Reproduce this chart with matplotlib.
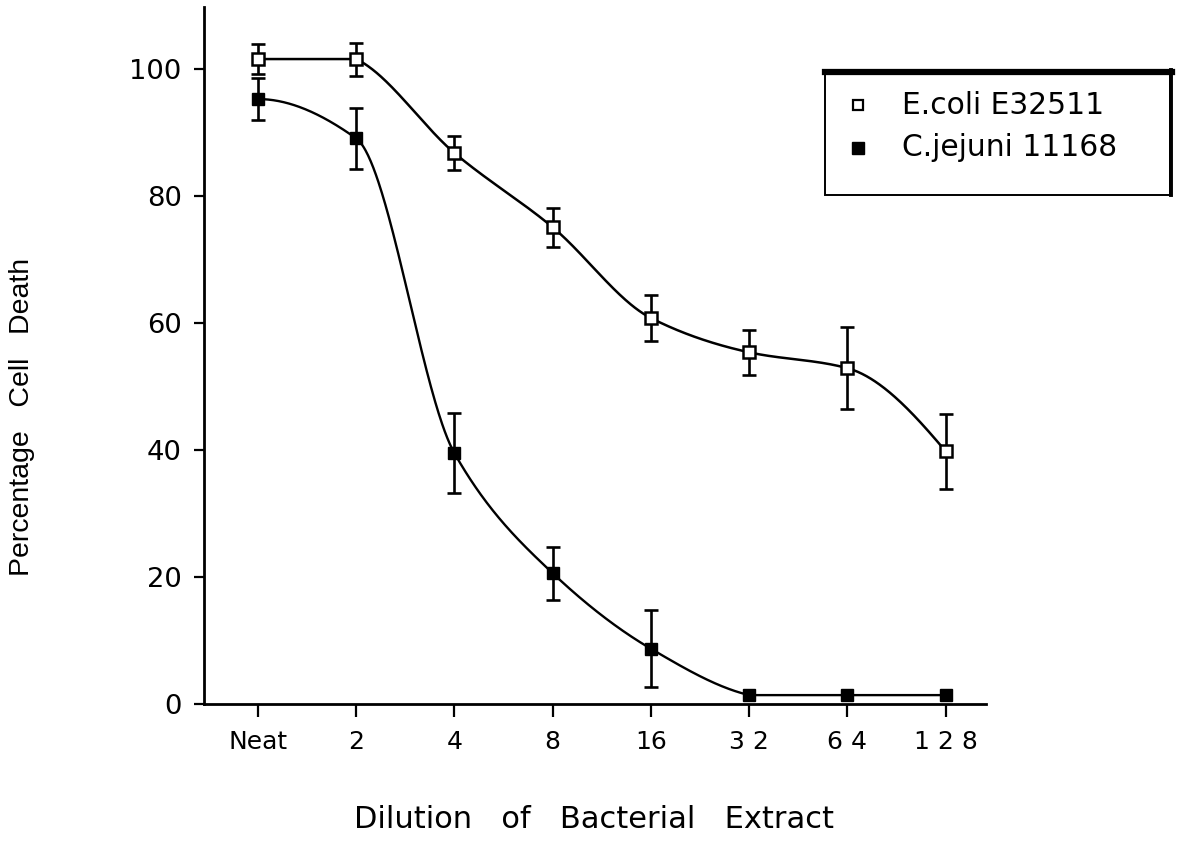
import numpy as np
import matplotlib
matplotlib.use("Agg")
import matplotlib.pyplot as plt
from matplotlib.lines import Line2D
from matplotlib.patches import Rectangle

# ---------------- data ----------------
categories = ['Neat', '2', '4', '8', '16', '32', '64', '128']
tick_labels = ['Neat', '2', '4', '8', '16', '3 2', '6 4', '1 2 8']
ecoli = [101.6, 101.6, 86.8, 75.1, 60.8, 55.4, 52.9, 39.8]
ecoli_err = [2.3, 2.6, 2.75, 3.1, 3.6, 3.5, 6.5, 5.9]
cjejuni = [95.3, 89.1, 39.5, 20.6, 8.7, 1.4, 1.4, 1.4]
cjejuni_err = [3.3, 4.8, 6.3, 4.2, 6.1, 0.0, 0.0, 0.0]
series_names = ['E.coli E32511', 'C.jejuni 11168']
y_ticks = [0, 20, 40, 60, 80, 100]

WIDE = ['DejaVu Sans']
NARROW = ['Liberation Sans', 'DejaVu Sans']
plt.rcParams['font.family'] = WIDE


def smooth_curve(x, y, xs):
    """Piecewise cubic Hermite smoothing (monotone, Fritsch-Carlson style)."""
    x = np.asarray(x, float)
    y = np.asarray(y, float)
    h = np.diff(x)
    delta = np.diff(y) / h
    n = len(x)
    d = np.zeros(n)
    for k in range(1, n - 1):
        if delta[k - 1] * delta[k] > 0:
            w1 = 2 * h[k] + h[k - 1]
            w2 = h[k] + 2 * h[k - 1]
            d[k] = (w1 + w2) / (w1 / delta[k - 1] + w2 / delta[k])

    def end(h0, h1, d0, d1):
        v = ((2 * h0 + h1) * d0 - h0 * d1) / (h0 + h1)
        if np.sign(v) != np.sign(d0):
            v = 0.0
        elif np.sign(d0) != np.sign(d1) and abs(v) > abs(3 * d0):
            v = 3 * d0
        return v

    d[0] = end(h[0], h[1], delta[0], delta[1])
    d[-1] = end(h[-1], h[-2], delta[-1], delta[-2])

    # one-sided tangents next to flat segments
    dl = d[:-1].copy()   # tangent at left end of segment k
    dr = d[1:].copy()    # tangent at right end of segment k
    for k in range(n - 1):
        if delta[k] == 0:
            continue
        if k > 0 and delta[k - 1] == 0:
            cr = (y[k + 1] - y[k - 1]) / (x[k + 1] - x[k - 1])
            if np.sign(cr) == np.sign(delta[k]):
                dl[k] = cr
        if k < n - 2 and delta[k + 1] == 0:
            cr = (y[k + 2] - y[k]) / (x[k + 2] - x[k])
            if np.sign(cr) == np.sign(delta[k]):
                dr[k] = cr

    idx = np.clip(np.searchsorted(x, xs) - 1, 0, n - 2)
    t = (xs - x[idx]) / h[idx]
    h00 = 2 * t**3 - 3 * t**2 + 1
    h10 = t**3 - 2 * t**2 + t
    h01 = -2 * t**3 + 3 * t**2
    h11 = t**3 - t**2
    return (h00 * y[idx] + h10 * h[idx] * dl[idx]
            + h01 * y[idx + 1] + h11 * h[idx] * dr[idx])


W, H = 1177, 856
fig = plt.figure(figsize=(W / 100, H / 100), dpi=100)
ax = fig.add_axes([204 / W, 1 - 704 / H, (986 - 204) / W, (704 - 7) / H])

x = np.arange(len(categories))
xs = np.linspace(x[0], x[-1], 800)

# curves
ax.plot(xs, smooth_curve(x, ecoli, xs), color='black', lw=1.8, zorder=2)
ax.plot(xs, smooth_curve(x, cjejuni, xs), color='black', lw=1.7, zorder=2)

# error bars
ax.errorbar(x, ecoli, yerr=ecoli_err, fmt='none', ecolor='black',
            elinewidth=1.9, capsize=4.8, capthick=1.9, zorder=3)
ax.errorbar(x, cjejuni, yerr=[e if e > 0 else np.nan for e in cjejuni_err],
            fmt='none', ecolor='black', elinewidth=1.9, capsize=4.8,
            capthick=1.9, zorder=3)

# markers
ax.plot(x, ecoli, ls='none', marker='s', ms=8.5, mfc='white', mec='black',
        mew=1.8, zorder=4)
ax.plot(x, cjejuni, ls='none', marker='s', ms=8.5, mfc='black', mec='black',
        mew=1.0, zorder=4)

ax.set_xlim(-0.549, 7.41)
ax.set_ylim(0, 109.8)
ax.set_xticks(x)
ax.set_xticklabels(tick_labels)
ax.set_yticks(y_ticks)
ax.set_yticklabels([str(v) for v in y_ticks])

for s in ['top', 'right']:
    ax.spines[s].set_visible(False)
for s in ['left', 'bottom']:
    ax.spines[s].set_linewidth(2.0)

ax.tick_params(axis='y', direction='out', length=7, width=1.6, pad=9,
               labelsize=19.7)
ax.tick_params(axis='x', direction='out', length=9, width=1.6, pad=10,
               labelsize=18)

# axis titles
fig.text(594 / W, 1 - 819 / H,
         'Dilution   of   Bacterial   Extract', ha='center', va='center',
         fontsize=22)
fig.text(22 / W, 1 - 417 / H, 'Percentage   Cell   Death', rotation=90,
         ha='center', va='center', fontsize=20.5, family=NARROW)

# legend box (drawn in figure pixel coordinates)
L, T, R, B = 825, 72, 1170, 195
fig.add_artist(Rectangle((L / W, 1 - B / H), (R - L) / W, (B - T) / H,
                         transform=fig.transFigure, fill=False,
                         edgecolor='black', lw=1.4))
fig.add_artist(Line2D([L / W, (R + 2) / W], [1 - 72 / H, 1 - 72 / H],
                      transform=fig.transFigure, color='black', lw=4.5))
fig.add_artist(Line2D([(R + 1) / W, (R + 1) / W], [1 - 70 / H, 1 - B / H],
                      transform=fig.transFigure, color='black', lw=2.8))

rows = [105, 148]
styles = [dict(mfc='white', mec='black', mew=1.6, ms=7.5),
          dict(mfc='black', mec='black', mew=1.0, ms=8)]
for name, yy, st in zip(series_names, rows, styles):
    fig.add_artist(Line2D([858 / W], [1 - yy / H], transform=fig.transFigure,
                          ls='none', marker='s', **st))
    fig.text(902 / W, 1 - yy / H, name, ha='left', va='center',
             fontsize=21.4)

fig.savefig('out.png', dpi=100)
